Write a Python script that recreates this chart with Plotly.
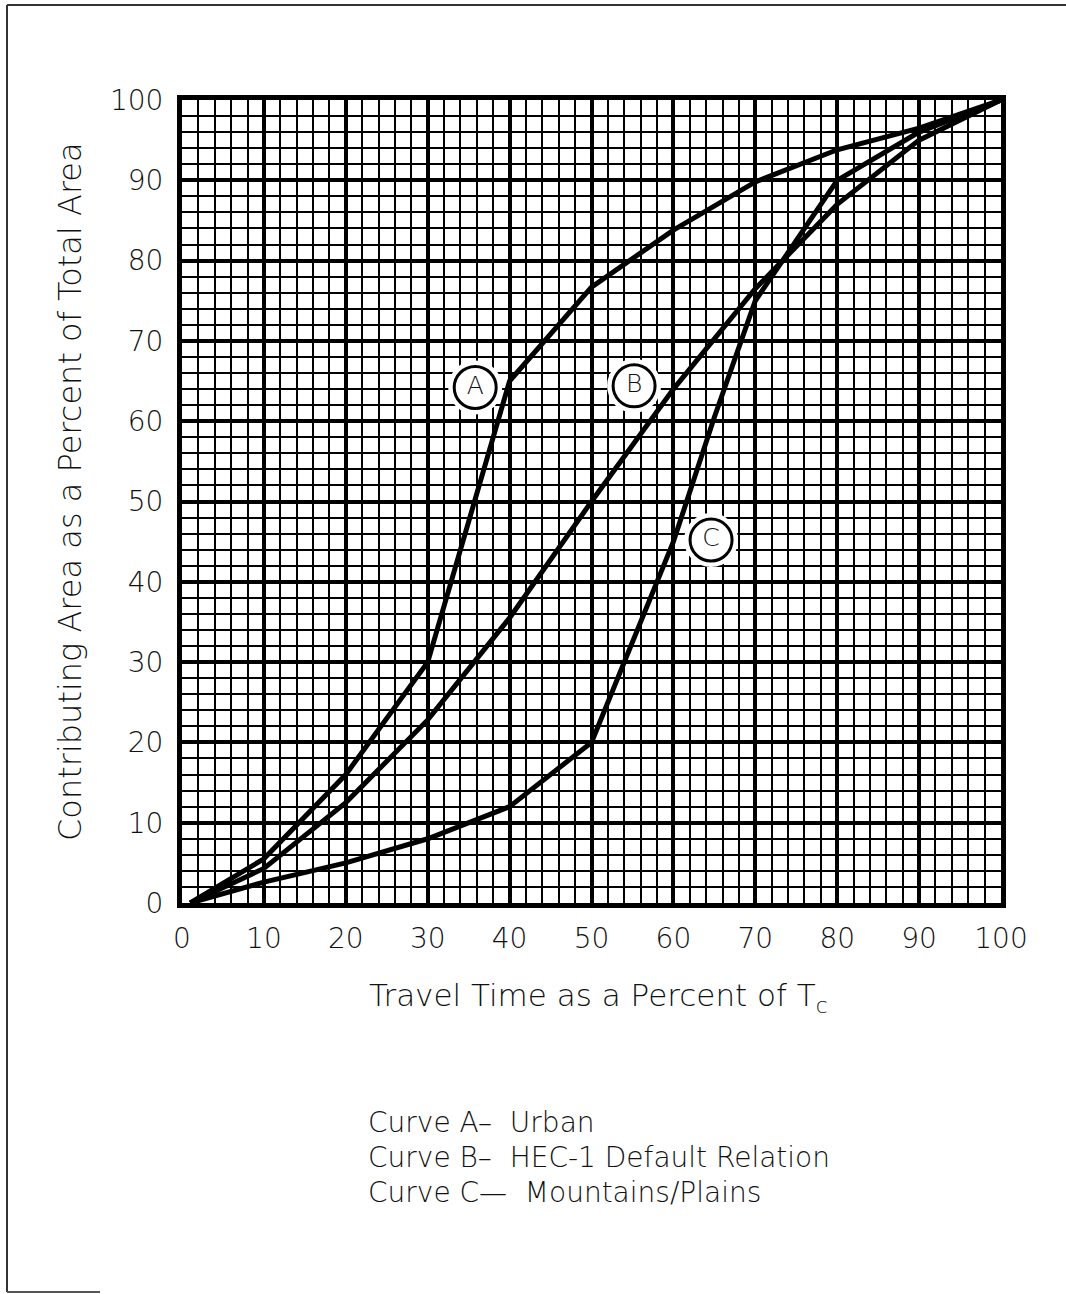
import plotly.graph_objects as go

# ---------------- data ----------------
x_pct = [1, 10, 20, 30, 40, 50, 60, 70, 80, 90, 100]
curve_a = [0, 5.5, 16, 30, 65, 76.7, 83.8, 89.8, 93.8, 96.5, 100]      # Urban
curve_b = [0, 4.3, 12.5, 22.8, 35.5, 50, 64, 76.5, 87, 95, 100]        # HEC-1 default
curve_c_x = [1, 10, 20, 30, 40, 50, 60, 65, 70, 80, 90, 100]
curve_c = [0, 2.6, 5, 8, 12, 20, 45, 60.5, 75, 90, 96, 100]            # Mountains/Plains

label_names = ["A", "B", "C"]
label_x = [35.8, 55.2, 64.6]
label_y = [64.2, 64.4, 45.2]

tick_vals = [0, 10, 20, 30, 40, 50, 60, 70, 80, 90, 100]
legend_lines = ["Curve A\u2013  Urban",
                "Curve B\u2013  HEC-1 Default Relation",
                "Curve C\u2014  Mountains/Plains"]

# ---------------- layout geometry ----------------
W, H = 1066, 1294
L, R, T, B = 182, 1001, 100, 903
FONT = "'DejaVu Sans', Verdana, sans-serif"
TXT = "#111111"


def px(xp):
    return (xp - L) / (R - L)


def py(yp):
    return (B - yp) / (B - T)


fig = go.Figure()

# white halos behind the circled labels (erase grid)
fig.add_trace(go.Scatter(
    x=label_x, y=label_y, mode="markers",
    marker=dict(size=54, color="white", line=dict(width=0)),
    hoverinfo="skip", showlegend=False))

for xs, ys in [(x_pct, curve_a), (x_pct, curve_b), (curve_c_x, curve_c)]:
    fig.add_trace(go.Scatter(
        x=xs, y=ys, mode="lines",
        line=dict(color="black", width=5),
        showlegend=False, hoverinfo="skip"))

fig.add_trace(go.Scatter(
    x=label_x, y=label_y, mode="markers+text",
    text=label_names, textposition="middle center",
    textfont=dict(family=FONT, size=25, color=TXT, weight=300),
    marker=dict(size=42, color="white", line=dict(width=3, color="black")),
    showlegend=False, hoverinfo="skip"))

axis_common = dict(
    range=[0, 100], tickvals=tick_vals,
    showgrid=True, gridcolor="black", gridwidth=3.5,
    minor=dict(dtick=2, showgrid=True, gridcolor="black", gridwidth=1.5, ticks=""),
    showline=True, linecolor="black", linewidth=5, mirror=True,
    zeroline=False, ticks="",
    tickfont=dict(family=FONT, size=28, color=TXT, weight=300),
    fixedrange=True,
)

fig.update_xaxes(**axis_common, ticklabelstandoff=6)
fig.update_yaxes(**axis_common, ticklabelstandoff=8)

annotations = [
    dict(text="Travel Time as a Percent of T<sub>c</sub>",
         x=px(598), y=py(997), xref="paper", yref="paper",
         xanchor="center", yanchor="middle", showarrow=False,
         font=dict(family=FONT, size=31, color=TXT, weight=300)),
    dict(text="Contributing Area as a Percent of Total Area",
         x=px(70), y=py(492), xref="paper", yref="paper",
         xanchor="center", yanchor="middle", showarrow=False, textangle=-90,
         font=dict(family=FONT, size=32, color=TXT, weight=300)),
]
for i, line in enumerate(legend_lines):
    annotations.append(dict(
        text=line, x=px(366), y=py(1122 + 35 * i), xref="paper", yref="paper",
        xanchor="left", yanchor="middle", showarrow=False,
        font=dict(family=FONT, size=28, color=TXT, weight=300)))

shapes = [
    dict(type="line", xref="paper", yref="paper",
         x0=px(7), x1=px(7), y0=py(5), y1=py(1292),
         line=dict(color="#333333", width=2)),
    dict(type="line", xref="paper", yref="paper",
         x0=px(7), x1=px(1066), y0=py(5), y1=py(5),
         line=dict(color="#333333", width=2)),
    dict(type="line", xref="paper", yref="paper",
         x0=px(7), x1=px(100), y0=py(1292), y1=py(1292),
         line=dict(color="#555555", width=2)),
]

fig.update_layout(
    width=W, height=H, autosize=False,
    margin=dict(l=L, r=W - R, t=T, b=H - B, pad=0),
    paper_bgcolor="white", plot_bgcolor="white",
    annotations=annotations, shapes=shapes,
    showlegend=False,
)

fig.write_html("out.html", config={"displayModeBar": False})
